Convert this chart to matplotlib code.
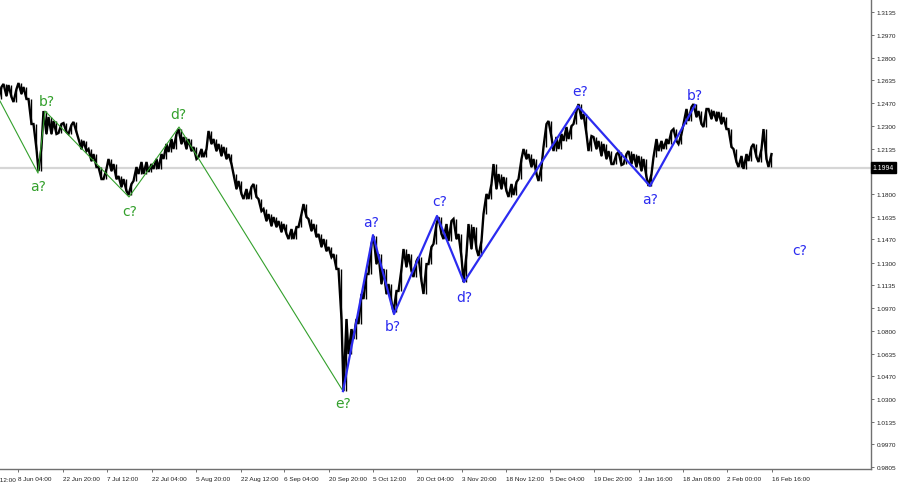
import matplotlib

matplotlib.use("Agg")
import matplotlib.pyplot as plt
import matplotlib.transforms as mtransforms
import numpy as np

# price envelope, one sample per 5 bar-units
highs = [
    1.2586, 1.2608, 1.2600, 1.2571, 1.2615, 1.2586, 1.2498, 1.2315, 1.2147, 1.2410,
    1.2366, 1.2337, 1.2315, 1.2322, 1.2308, 1.2330, 1.2205, 1.2191, 1.2132, 1.2095,
    1.2000, 1.1986, 1.2059, 1.2022, 1.1934, 1.1912, 1.1876, 1.2000, 1.2037, 1.2037,
    1.2022, 1.2059, 1.2095, 1.2169, 1.2205, 1.2242, 1.2278, 1.2220, 1.2205, 1.2147,
    1.2132, 1.2132, 1.2264, 1.2205, 1.2169, 1.2147, 1.2095, 1.1949, 1.1898, 1.1839,
    1.1854, 1.1876, 1.1766, 1.1693, 1.1656, 1.1634, 1.1605, 1.1583, 1.1546, 1.1561,
    1.1656, 1.1729, 1.1620, 1.1583, 1.1510, 1.1473, 1.1415, 1.1363, 1.1254, 1.0888,
    1.0814, 1.0888, 1.1071, 1.1217, 1.1437, 1.1495, 1.1363, 1.1254, 1.1144, 1.1093,
    1.1254, 1.1400, 1.1363, 1.1312, 1.1341, 1.1290, 1.1415, 1.1583, 1.1634, 1.1583,
    1.1605, 1.1620, 1.1510, 1.1363, 1.1583, 1.1561, 1.1459, 1.1803, 1.1876, 1.2022,
    1.1949, 1.1927, 1.1876, 1.1890, 1.2059, 1.2132, 1.2095, 1.2059, 1.2000, 1.2315,
    1.2337, 1.2220, 1.2242, 1.2293, 1.2300, 1.2410, 1.2461, 1.2388, 1.2227, 1.2220,
    1.2191, 1.2169, 1.2117, 1.2095, 1.2110, 1.2095, 1.2117, 1.2095, 1.2081, 1.2059,
    1.1949, 1.2205, 1.2191, 1.2205, 1.2264, 1.2278, 1.2242, 1.2425, 1.2439, 1.2461,
    1.2410, 1.2425, 1.2425, 1.2410, 1.2403, 1.2366, 1.2278, 1.2132, 1.2081, 1.2095,
    1.2147, 1.2169, 1.2132, 1.2278, 1.2095,
]
lows = [
    1.2498, 1.2520, 1.2513, 1.2476, 1.2535, 1.2498, 1.2315, 1.2132, 1.1971, 1.2242,
    1.2242, 1.2242, 1.2249, 1.2256, 1.2242, 1.2256, 1.2132, 1.2117, 1.2044, 1.2000,
    1.1912, 1.1912, 1.1971, 1.1912, 1.1854, 1.1825, 1.1795, 1.1898, 1.1949, 1.1949,
    1.1964, 1.1986, 1.1986, 1.2059, 1.2110, 1.2132, 1.2169, 1.2132, 1.2117, 1.2059,
    1.2073, 1.2073, 1.2169, 1.2117, 1.2081, 1.2059, 1.2022, 1.1839, 1.1803, 1.1766,
    1.1766, 1.1781, 1.1678, 1.1605, 1.1568, 1.1561, 1.1524, 1.1510, 1.1473, 1.1473,
    1.1561, 1.1634, 1.1532, 1.1488, 1.1415, 1.1385, 1.1341, 1.1254, 1.0888, 1.0360,
    1.0631, 1.0741, 1.0851, 1.1034, 1.1217, 1.1290, 1.1144, 1.1071, 1.1012, 1.0939,
    1.1093, 1.1268, 1.1239, 1.1195, 1.1166, 1.1071, 1.1290, 1.1437, 1.1510, 1.1473,
    1.1459, 1.1473, 1.1341, 1.1158, 1.1400, 1.1400, 1.1349, 1.1656, 1.1766, 1.1839,
    1.1839, 1.1825, 1.1781, 1.1795, 1.1912, 1.2059, 1.2000, 1.1949, 1.1898, 1.2147,
    1.2220, 1.2117, 1.2132, 1.2191, 1.2205, 1.2315, 1.2352, 1.2242, 1.2117, 1.2132,
    1.2081, 1.2059, 1.2022, 1.2022, 1.2015, 1.2022, 1.2022, 1.2000, 1.1971, 1.1927,
    1.1861, 1.2073, 1.2117, 1.2132, 1.2169, 1.2191, 1.2169, 1.2315, 1.2337, 1.2366,
    1.2315, 1.2293, 1.2352, 1.2337, 1.2315, 1.2278, 1.2147, 1.2037, 1.2000, 1.1986,
    1.2044, 1.2073, 1.2037, 1.2059, 1.2000,
]
last_price = 1.1994

# wave counts (bar position, price)
green_x = [0, 38, 45, 129, 179, 343]
green_p = [1.2483, 1.1956, 1.2410, 1.1781, 1.2293, 1.0360]
blue_x = [343, 373, 394, 437, 464, 578, 650, 695]
blue_p = [1.0360, 1.1502, 1.0924, 1.1642, 1.1158, 1.2447, 1.1861, 1.2454]

green_labels = ["b?", "a?", "c?", "d?", "e?"]
green_lx = [47, 38, 130, 178, 343]
green_lp = [1.2483, 1.1861, 1.1678, 1.2388, 1.0273]
blue_labels = ["a?", "b?", "c?", "d?", "e?", "a?", "b?", "c?"]
blue_lx = [371, 393, 440, 464, 580, 650, 695, 800]
blue_lp = [1.1598, 1.0836, 1.1751, 1.1049, 1.2557, 1.1766, 1.2527, 1.1393]

y_ticks = [0.9805, 0.9970, 1.0135, 1.0300, 1.0470, 1.0635, 1.0800, 1.0970, 1.1135,
           1.1300, 1.1470, 1.1635, 1.1800, 1.1970, 1.2135, 1.2300, 1.2470, 1.2635,
           1.2800, 1.2970, 1.3135]
x_tick_pos = [18, 63, 107, 152, 196, 241, 284, 329, 373, 417, 462, 506, 550, 594,
              639, 683, 727, 772]
x_tick_labels = ["8 Jun 04:00", "22 Jun 20:00", "7 Jul 12:00", "22 Jul 04:00",
                 "5 Aug 20:00", "22 Aug 12:00", "6 Sep 04:00", "20 Sep 20:00",
                 "5 Oct 12:00", "20 Oct 04:00", "3 Nov 20:00", "18 Nov 12:00",
                 "5 Dec 04:00", "19 Dec 20:00", "3 Jan 16:00", "18 Jan 08:00",
                 "2 Feb 00:00", "16 Feb 16:00"]

GREEN = "#33a02c"
BLUE = "#2b2bf0"
TICK_FONT = "Liberation Sans"
TICK_SIZE = 4.6

fig = plt.figure(figsize=(9, 4.85), dpi=100)
ax = fig.add_axes([0, 15 / 485, 871 / 900, 470 / 485])
ax.set_xlim(0, 871)
ax.set_ylim(0.9790, 1.3230)

ax.axhline(last_price, color="#d6d6d6", lw=1.6, zorder=0)

hi = np.array(highs)
lo = np.array(lows)
x = np.arange(len(hi)) * 5.0
mid = (hi + lo) / 2
# order each bar's high/low by the direction of the move into the next one
going_up = np.append(mid[1:] >= mid[:-1], True)
first = np.where(going_up, lo, hi)
second = np.where(going_up, hi, lo)
px = np.column_stack([x - 1.5, x + 1.5]).ravel()
py = np.column_stack([first, second]).ravel()
ax.plot(px, py, color="black", lw=1.7, zorder=2, solid_joinstyle="miter")
ax.vlines(x + 0.5, lo, hi, color="black", lw=1.0, zorder=2)

ax.plot(green_x, green_p, color=GREEN, lw=0.8, zorder=3)
ax.plot(blue_x, blue_p, color=BLUE, lw=1.6, zorder=3)

for t, lx, lp in zip(green_labels, green_lx, green_lp):
    ax.text(lx, lp, t, color=GREEN, fontsize=10, ha="center", va="center", zorder=4)
for t, lx, lp in zip(blue_labels, blue_lx, blue_lp):
    ax.text(lx, lp, t, color=BLUE, fontsize=10, ha="center", va="center", zorder=4)
ax.text(-9, 1.2776, "e?", color=BLUE, fontsize=10, ha="center", va="center", clip_on=True)

for s in ["top", "left"]:
    ax.spines[s].set_visible(False)
for s in ["right", "bottom"]:
    ax.spines[s].set_color("#707070")
    ax.spines[s].set_linewidth(1.0)

ax.yaxis.tick_right()
ax.set_yticks(y_ticks, [f"{v:.4f}" for v in y_ticks])
ax.tick_params(axis="y", direction="out", length=2.5, width=0.7, color="#707070",
               pad=1.5, labelsize=TICK_SIZE, labelcolor="#202020")
ax.set_xticks(x_tick_pos, x_tick_labels)
ax.tick_params(axis="x", direction="out", length=2.5, width=0.7, color="#707070",
               pad=2.5, labelsize=TICK_SIZE, labelcolor="#202020")
for lab in ax.get_xticklabels():
    lab.set_horizontalalignment("left")
    lab.set_family(TICK_FONT)
for lab in ax.get_yticklabels():
    lab.set_family(TICK_FONT)

# first, cut-off date label at the left edge
trans_x = mtransforms.blended_transform_factory(ax.transData, ax.transAxes)
ax.text(-23, -0.0165, "24 May 12:00", transform=trans_x, ha="left", va="top",
        fontsize=TICK_SIZE, color="#202020", family=TICK_FONT, clip_on=False)

# current price marker
trans_y = mtransforms.blended_transform_factory(ax.transAxes, ax.transData)
ax.text(1.002, last_price, f"{last_price:.4f}", transform=trans_y, ha="left",
        va="center", fontsize=TICK_SIZE + 0.3, color="white", family=TICK_FONT,
        zorder=10, bbox=dict(boxstyle="square,pad=0.3", fc="black", ec="black"),
        clip_on=False)

fig.savefig("out.png", dpi=100)
